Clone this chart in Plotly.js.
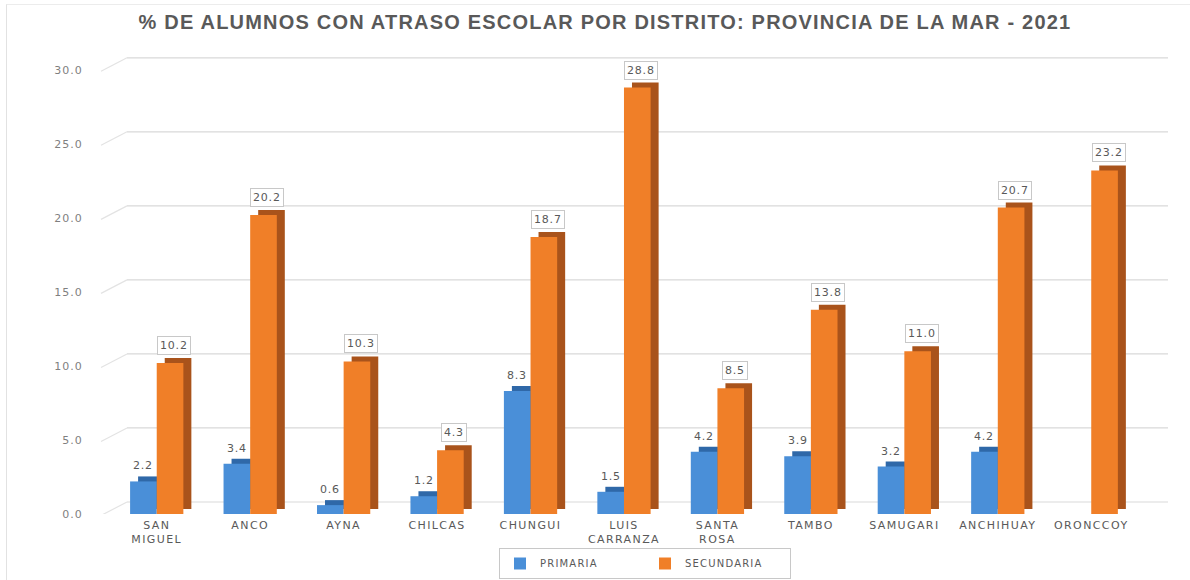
<!DOCTYPE html>
<html>
<head>
<meta charset="utf-8">
<script src="https://cdn.plot.ly/plotly-3.0.1.min.js"></script>
<style>
  html, body { margin: 0; padding: 0; background: #ffffff; }
  #wrap { position: relative; width: 1190px; height: 580px; }
  #chart { width: 1190px; height: 580px; }
  #frame { position: absolute; left: 6px; top: 4px; width: 1184px; height: 576px;
           border-left: 1px solid #e2e2e2; border-top: 1px solid #ececec; pointer-events: none; }
  .xtick text { letter-spacing: 1.4px; }
  .ytick text { letter-spacing: 1px; }
  .legendtext { letter-spacing: 1.2px; }
  .annotation-text { letter-spacing: 0.8px; }
  .gtitle { letter-spacing: 1.2px; }
</style>
</head>
<body>
<div id="wrap">
  <div id="chart"></div>
  <div id="frame"></div>
</div>
<script>
// ---- data ----
const districts = ['SAN<br>MIGUEL', 'ANCO', 'AYNA', 'CHILCAS', 'CHUNGUI', 'LUIS<br>CARRANZA',
                   'SANTA<br>ROSA', 'TAMBO', 'SAMUGARI', 'ANCHIHUAY', 'ORONCCOY'];
const primaria   = [2.2, 3.4, 0.6, 1.2, 8.3, 1.5, 4.2, 3.9, 3.2, 4.2, null];
const secundaria = [10.2, 20.2, 10.3, 4.3, 18.7, 28.8, 8.5, 13.8, 11.0, 20.7, 23.2];
const yTicks     = [0, 5, 10, 15, 20, 25, 30];
const seriesNames = ['PRIMARIA', 'SECUNDARIA'];

// ---- geometry / style ----
const W = 1190, H = 580;
const mL = 110, mR = 24, mT = 55, mB = 66;
const plotW = W - mL - mR, plotH = H - mT - mB;
const yMax = 31;
const xRange = [-0.5, 10.8];
const catPx = plotW / (xRange[1] - xRange[0]);
const unitPx = plotH / yMax;
const barW = 0.285;
const depthX = 8 / catPx;     // 3D side depth
const depthY = 5 / unitPx;    // 3D top depth
const wallY = 12 / unitPx;    // back wall grid offset
const blue = '#4a8fd8', blueDark = '#2f68a8';
const orange = '#f07f28', orangeDark = '#a9531b';
const txt = '#595959';
const font = 'DejaVu Sans, sans-serif';

const px2paperX = p => (p - mL) / plotW;

const traces = [
  { type: 'bar', x: districts, y: primaria, base: depthY, offset: -barW + depthX, width: barW,
    marker: { color: blueDark }, showlegend: false, hoverinfo: 'skip' },
  { type: 'bar', name: seriesNames[0], x: districts, y: primaria, offset: -barW, width: barW,
    marker: { color: blue } },
  { type: 'bar', x: districts, y: secundaria, base: depthY, offset: depthX, width: barW,
    marker: { color: orangeDark }, showlegend: false, hoverinfo: 'skip' },
  { type: 'bar', name: seriesNames[1], x: districts, y: secundaria, offset: 0, width: barW,
    marker: { color: orange } }
];

// gridlines on the back wall + perspective connectors
const shapes = [];
yTicks.forEach(t => {
  shapes.push({ type: 'line', layer: 'below', xref: 'paper', yref: 'y',
    x0: px2paperX(127), x1: px2paperX(1168), y0: t + wallY, y1: t + wallY,
    line: { color: '#d9d9d9', width: 1.2 } });
  shapes.push({ type: 'line', layer: 'below', xref: 'paper', yref: 'y',
    x0: px2paperX(101), x1: px2paperX(127), y0: t - 0.1, y1: t + wallY,
    line: { color: '#e3e3e3', width: 1.2 } });
});

// data labels
const annotations = [];
primaria.forEach((v, i) => {
  if (v === null) return;
  annotations.push({ x: i - barW / 2, y: v + depthY, xref: 'x', yref: 'y',
    text: v.toFixed(1), showarrow: false, yanchor: 'bottom', yshift: 2,
    font: { family: font, size: 11, color: txt } });
});
secundaria.forEach((v, i) => {
  annotations.push({ x: i + barW / 2 + depthX / 2, y: v + depthY, xref: 'x', yref: 'y',
    text: v.toFixed(1), showarrow: false, yanchor: 'bottom', yshift: 3,
    bgcolor: '#ffffff', bordercolor: '#c8c8c8', borderwidth: 1, borderpad: 2,
    font: { family: font, size: 11, color: txt } });
});

const layout = {
  width: W, height: H,
  margin: { l: mL, r: mR, t: mT, b: mB, autoexpand: false },
  paper_bgcolor: '#ffffff', plot_bgcolor: 'rgba(0,0,0,0)',
  barmode: 'overlay',
  title: { text: '% DE ALUMNOS CON ATRASO ESCOLAR POR DISTRITO: PROVINCIA DE LA MAR - 2021',
    xref: 'container', x: 605 / W, xanchor: 'center',
    yref: 'container', y: 1 - 22 / H, yanchor: 'middle',
    font: { family: 'Liberation Sans, Arial, sans-serif', size: 20, weight: 'bold', color: txt } },
  xaxis: { type: 'category', range: xRange, showgrid: false, zeroline: false, showline: false,
    automargin: false, ticklabelstandoff: 3,
    ticks: '', tickfont: { family: font, size: 11, color: txt }, fixedrange: true },
  yaxis: { range: [0, yMax], showgrid: false, zeroline: false, showline: false, automargin: false,
    tickvals: yTicks, ticktext: yTicks.map(v => v.toFixed(1)),
    ticks: 'outside', ticklen: 24, tickcolor: 'rgba(0,0,0,0)',
    tickfont: { family: font, size: 11, color: '#7f7f7f' }, fixedrange: true },
  legend: { orientation: 'h', x: px2paperX(645), xanchor: 'center', y: -(579 - (H - mB)) / plotH, yanchor: 'bottom',
    bordercolor: '#c8c8c8', borderwidth: 1, font: { family: font, size: 10, color: txt },
    itemwidth: 30, traceorder: 'normal', entrywidth: 100 },
  shapes: shapes,
  annotations: annotations,
  showlegend: true
};

Plotly.newPlot('chart', traces, layout, { displayModeBar: false, staticPlot: true });
</script>
</body>
</html>
